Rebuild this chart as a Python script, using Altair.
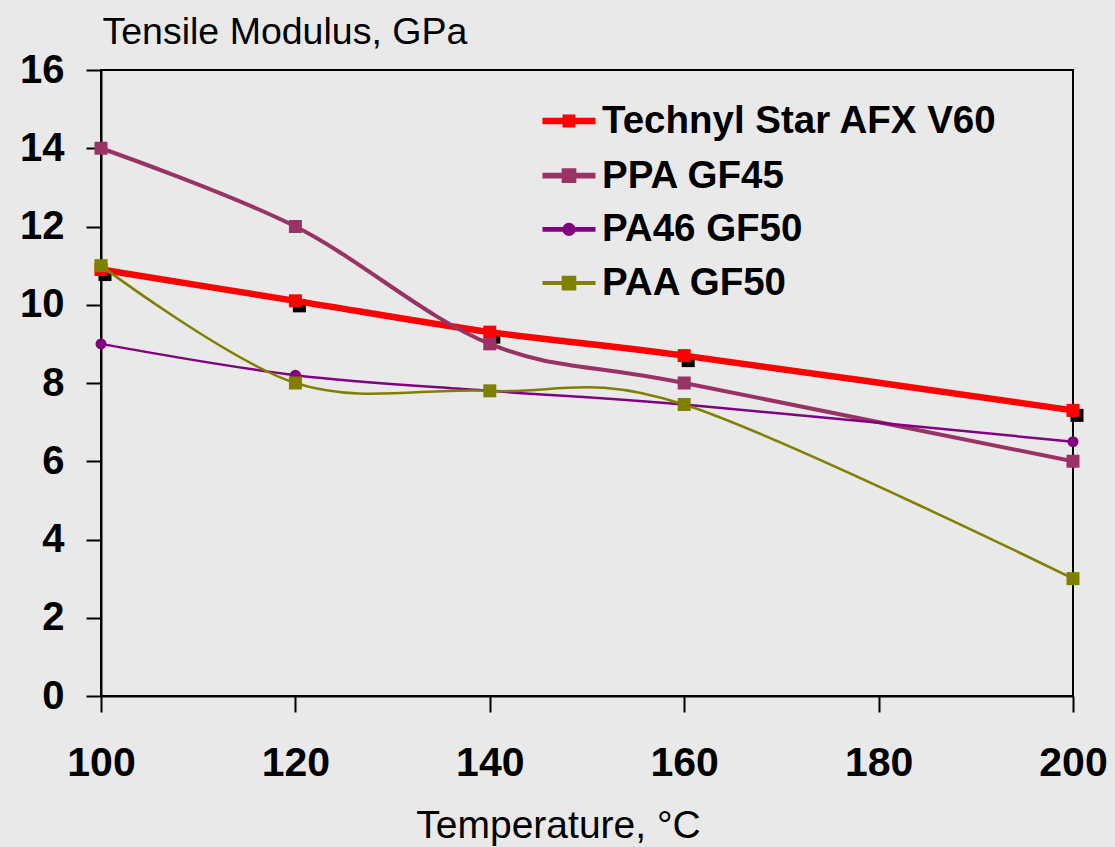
import altair as alt
import pandas as pd

# ---- data ----
temps = [100, 120, 140, 160, 200]
series_names = ["Technyl Star AFX V60", "PPA GF45", "PA46 GF50", "PAA GF50"]
technyl = [10.9, 10.1, 9.3, 8.7, 7.3]
ppa_gf45 = [14.0, 12.0, 9.0, 8.0, 6.0]
pa46_gf50 = [9.0, 8.2, 7.8, 7.45, 6.5]
paa_gf50 = [11.0, 8.0, 7.8, 7.45, 3.0]
x_ticks = [100, 120, 140, 160, 180, 200]
y_ticks = [0, 2, 4, 6, 8, 10, 12, 14, 16]

# ---- styles ----
colors = ["#FF0000", "#993366", "#800080", "#808000"]
line_widths = [6.5, 4, 2.5, 2.5]
marker_shapes = ["square", "square", "circle", "square"]
marker_sizes = [169, 169, 121, 169]
legend_paths = [
    "M-1,0H1M-0.12,-0.12H0.12V0.12H-0.12Z",
    "M-1,0H1M-0.17,-0.17H0.17V0.17H-0.17Z",
    "M-1,0H1M0.16,0A0.16,0.16,0,1,1,-0.16,0A0.16,0.16,0,1,1,0.16,0Z",
    "M-1,0H1M-0.2,-0.2H0.2V0.2H-0.2Z",
]

values = [technyl, ppa_gf45, pa46_gf50, paa_gf50]
rows = []
for name, vals in zip(series_names, values):
    for t, v in zip(temps, vals):
        rows.append({"Temperature": t, "Modulus": v, "Series": name})
df = pd.DataFrame(rows)

FONT = "Liberation Sans, Arial"

x_enc = alt.X(
    "Temperature:Q",
    scale=alt.Scale(domain=[100, 200], nice=False, zero=False),
    axis=alt.Axis(
        values=x_ticks, format="d", title="Temperature, °C",
        labelFont=FONT, labelFontWeight="bold", labelFontSize=41, labelColor="black",
        labelPadding=31, tickSize=16, tickColor="black", tickWidth=2,
        domainColor="black", domainWidth=2, grid=False, labelFlush=False,
        titleFont=FONT, titleFontWeight="normal", titleFontSize=39, titleColor="black",
        titleX=457, titleY=141, titleAlign="center", titleBaseline="alphabetic",
    ),
)
y_enc = alt.Y(
    "Modulus:Q",
    scale=alt.Scale(domain=[0, 16], nice=False),
    axis=alt.Axis(
        values=y_ticks, title="Tensile Modulus, GPa",
        labelFont=FONT, labelFontWeight="bold", labelFontSize=40, labelColor="black",
        labelPadding=22, tickSize=15, tickColor="black", tickWidth=2,
        domainColor="black", domainWidth=2, grid=False, labelFlush=False,
        titleFont=FONT, titleFontWeight="normal", titleFontSize=37.5, titleColor="black",
        titleAngle=0, titleX=1, titleY=-27, titleAlign="left", titleBaseline="alphabetic",
    ),
)

base = alt.Chart(df)

layers = []
# black shadow squares behind Technyl markers
layers.append(
    base.transform_filter(alt.datum.Series == series_names[0])
    .mark_point(shape="square", filled=True, size=169, color="black", opacity=1, xOffset=4, yOffset=5)
    .encode(x=x_enc, y=y_enc)
)
for name, c, w, shp, sz in zip(series_names, colors, line_widths, marker_shapes, marker_sizes):
    sub = base.transform_filter(alt.datum.Series == name)
    layers.append(
        sub.mark_line(color=c, strokeWidth=w, interpolate="cardinal", tension=0)
        .encode(x=x_enc, y=y_enc)
    )
    layers.append(
        sub.mark_point(shape=shp, filled=True, size=sz, color=c, opacity=1)
        .encode(x=x_enc, y=y_enc)
    )

legend = alt.Legend(
    title=None, orient="none", legendX=438, legendY=21,
    labelFont=FONT, labelFontWeight="bold", labelFontSize=38.5, labelColor="black",
    labelOffset=3, labelLimit=0, symbolSize=2809, rowPadding=5.2, padding=0,
)
legend_layer = (
    base.transform_filter("false")
    .mark_point(filled=True, opacity=1, size=2809)
    .encode(
        fill=alt.Fill("Series:N", scale=alt.Scale(domain=series_names, range=colors), legend=legend),
        stroke=alt.Stroke("Series:N", scale=alt.Scale(domain=series_names, range=colors), legend=legend),
        shape=alt.Shape("Series:N", scale=alt.Scale(domain=series_names, range=legend_paths), legend=legend),
        strokeWidth=alt.StrokeWidth("Series:N", scale=alt.Scale(domain=series_names, range=line_widths), legend=legend),
    )
)
layers.append(legend_layer)

chart = (
    alt.layer(*layers)
    .properties(
        width=972, height=626,
        autosize=alt.AutoSizeParams(type="none"),
        padding={"left": 101, "top": 70, "right": 42, "bottom": 151},
        background="#e9e9e9",
    )
    .configure_view(stroke="black", strokeWidth=2)
)

chart.save("out.html", embed_options={"renderer": "svg", "actions": False})
